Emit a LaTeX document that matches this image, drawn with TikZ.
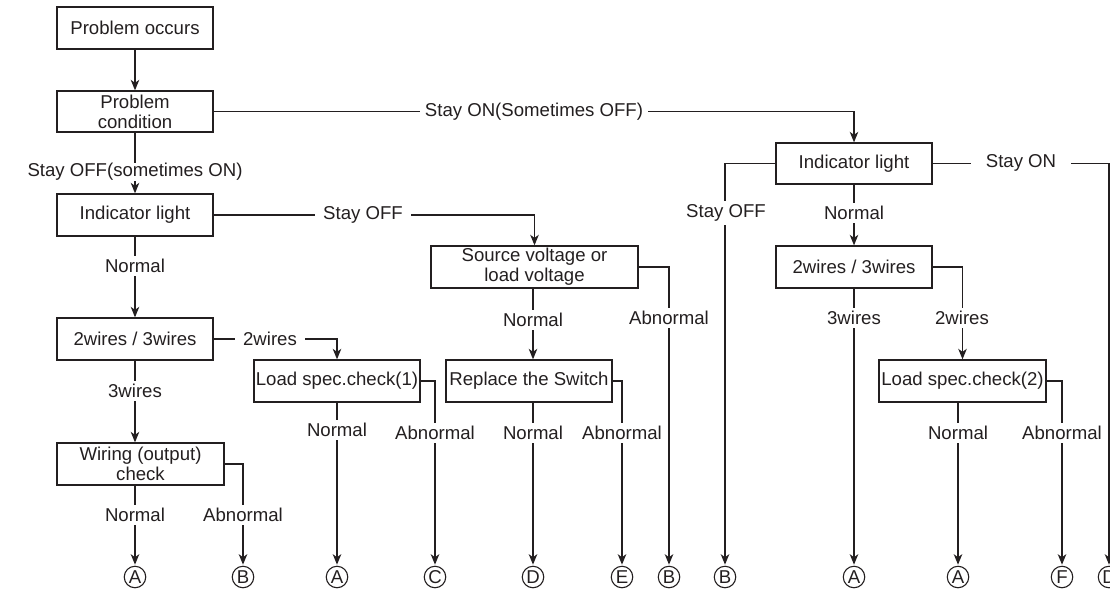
\documentclass[tikz,border=0pt]{standalone}
\usepackage{fontspec}
\setmainfont{Liberation Sans}
\usetikzlibrary{arrows.meta}
\definecolor{ink}{RGB}{35,31,32}
\begin{document}
\begin{tikzpicture}[x=1pt,y=-1pt,line width=1.3pt,draw=ink,text=ink,
  font=\fontsize{18.6}{20}\selectfont,
  box/.style={draw,rectangle,inner sep=1pt,align=center,minimum height=42pt},
  term/.style={draw,circle,minimum size=21.5pt,inner sep=0pt,line width=1.1pt},
  hlbl/.style={fill=white,inner ysep=3pt},
  vlbl/.style={fill=white,inner xsep=2pt,inner ysep=3.5pt},
  arr/.style={-{Stealth[length=10.5pt,width=8.5pt,inset=3pt]}},
  arrt/.style={arr,shorten >=1pt}]
\useasboundingbox (0,0) rectangle (1110,597);
% boxes
\node[box,minimum width=156pt] (po) at (135,28) {Problem occurs};
\node[box,minimum width=156pt,minimum height=41pt] (pc) at (135,111.5) {Problem\\condition};
\node[box,minimum width=156pt] (il1) at (135,215) {Indicator light};
\node[box,minimum width=156pt] (w1) at (135,339) {2wires / 3wires};
\node[box,minimum width=167pt] (wc) at (140.5,464) {Wiring (output)\\check};
\node[box,minimum width=166pt] (ls1) at (337,381) {Load spec.check(1)};
\node[box,minimum width=207pt] (sv) at (534.5,267) {Source voltage or\\load voltage};
\node[box,minimum width=166pt] (rs) at (529,381) {Replace the Switch};
\node[box,minimum width=156pt,minimum height=41pt] (il2) at (854,163.5) {Indicator light};
\node[box,minimum width=156pt] (w2) at (854,267) {2wires / 3wires};
\node[box,minimum width=167pt] (ls2) at (962.5,381) {Load spec.check(2)};
% terminals
\foreach \n/\x/\l in {t1/135/A,t2/243/B,t3/337/A,t4/435/C,t5/533/D,t6/622/E,t7/669/B,t8/725/B,t9/854/A,t10/958/A,t11/1062/F,t12/1109/D}
  \node[term] (\n) at (\x,577) {\l};
% connectors
\draw[arr] (po) -- (pc);
\draw[arr] (pc) -- (il1);
\draw[arr] (pc.east) -| (il2.north);
\draw[arr] (il1.east) -| (sv.north);
\draw[arr] (il1) -- (w1);
\draw[arr] (w1.south) -- (w1.south |- wc.north);
\draw[arr] (w1.east) -| (ls1.north);
\draw[arrt] (t1 |- wc.south) -- (t1.north);
\draw[arrt] (wc.east) -| (t2.north);
\draw[arrt] (ls1.south) -- (t3.north);
\draw[arrt] (ls1.east) -| (t4.north);
\draw[arr] (t5 |- sv.south) -- (t5 |- rs.north);
\draw[arrt] (sv.east) -| (t7.north);
\draw[arrt] (t5 |- rs.south) -- (t5.north);
\draw[arrt] (rs.east) -| (t6.north);
\draw[arrt] (il2.west) -| (t8.north);
\draw[arrt] (il2.east) -| (t12.north);
\draw[arr] (il2) -- (w2);
\draw[arrt] (w2.south) -- (t9.north);
\draw[arr] (w2.east) -| (ls2.north);
\draw[arrt] (t10 |- ls2.south) -- (t10.north);
\draw[arrt] (ls2.east) -| (t11.north);
% labels
\node[vlbl,inner ysep=0.5pt] (l1) at (135,172) {Stay OFF(sometimes ON)};
\node[hlbl,inner xsep=4.5pt] (l2) at (534,112) {Stay ON(Sometimes OFF)};
\node[hlbl,inner xsep=8.5pt] (l3) at (363,215) {Stay OFF};
\node[vlbl] (l4) at (135,266) {Normal};
\node[hlbl,inner xsep=8.5pt] (l5) at (270,339) {2wires};
\node[vlbl] (l6) at (135,391) {3wires};
\node[vlbl] (l7) at (135,515) {Normal};
\node[vlbl] (l8) at (243,515) {Abnormal};
\node[vlbl] (l9) at (337,430) {Normal};
\node[vlbl] (l10) at (435,433) {Abnormal};
\node[vlbl] (l11) at (533,320) {Normal};
\node[vlbl] (l12) at (669,318) {Abnormal};
\node[vlbl] (l13) at (533,433) {Normal};
\node[vlbl] (l14) at (622,433) {Abnormal};
\node[vlbl] (l15) at (726,213) {Stay OFF};
\node[hlbl,inner xsep=15pt] (l16) at (1021,163) {Stay ON};
\node[vlbl] (l17) at (854,213) {Normal};
\node[vlbl] (l18) at (854,318) {3wires};
\node[vlbl] (l19) at (962,318) {2wires};
\node[vlbl] (l20) at (958,433) {Normal};
\node[vlbl] (l21) at (1062,433) {Abnormal};
\end{tikzpicture}
\end{document}
